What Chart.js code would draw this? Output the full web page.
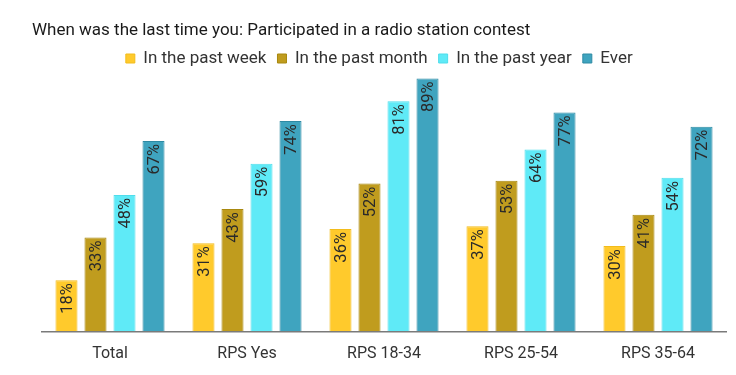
<!DOCTYPE html>
<html>
<head>
<meta charset="utf-8">
<script src="https://cdn.jsdelivr.net/npm/chart.js@4"></script>
<style>
  html, body { margin: 0; padding: 0; background: #fff; }
  #wrap { width: 736px; height: 375px; }
</style>
</head>
<body>
<div id="wrap"><canvas id="chart-1" width="736" height="375"></canvas></div>
<script>
var categories = ["Total", "RPS Yes", "RPS 18-34", "RPS 25-54", "RPS 35-64"];
var past_week = [18, 31, 36, 37, 30];
var past_month = [33, 43, 52, 53, 41];
var past_year = [48, 59, 81, 64, 54];
var ever = [67, 74, 89, 77, 72];
var series_names = ["In the past week", "In the past month", "In the past year", "Ever"];

var FONT = "Roboto, 'Noto Sans', sans-serif";

// labels rotated inside the top of each bar
const barLabels = {
    id: 'barLabels',
    afterDatasetsDraw(chart) {
        const ctx = chart.ctx;
        ctx.save();
        ctx.font = "16.5px " + FONT;
        ctx.fillStyle = '#2a2a2a';
        ctx.textAlign = 'right';
        ctx.textBaseline = 'middle';
        chart.data.datasets.forEach((ds, i) => {
            const meta = chart.getDatasetMeta(i);
            meta.data.forEach((bar, j) => {
                ctx.save();
                ctx.translate(bar.x, bar.y + 3);
                ctx.rotate(-Math.PI / 2);
                ctx.fillText(ds.data[j] + '%', 0, 1);
                ctx.restore();
            });
        });
        ctx.restore();
    }
};

const ctx = document.getElementById("chart-1").getContext("2d");
const myChart = new Chart(ctx, {
    type: "bar",
    data: {
        labels: categories,
        datasets: [{
            label: series_names[0],
            data: past_week,
            backgroundColor: '#FFCA2C',
            borderColor: '#F2BC1C',
            borderWidth: 1,
        }, {
            label: series_names[1],
            data: past_month,
            backgroundColor: '#C09C1E',
            borderColor: '#A8880F',
            borderWidth: 1,
        }, {
            label: series_names[2],
            data: past_year,
            backgroundColor: '#5FEAF7',
            borderColor: '#4FDDEB',
            borderWidth: 1,
        }, {
            label: series_names[3],
            data: ever,
            backgroundColor: '#3FA4BF',
            borderColor: '#2E8AA3',
            borderWidth: 1,
        }],
    },
    options: {
        responsive: false,
        animation: false,
        categoryPercentage: 0.847,
        barPercentage: 0.76,
        layout: {
            padding: { top: 0, left: 32, right: 9.5, bottom: -1.5 }
        },
        plugins: {
            title: {
                display: true,
                text: "When was the last time you: Participated in a radio station contest",
                align: 'start',
                color: '#1a1a1a',
                font: { family: FONT, size: 17, weight: 'normal', lineHeight: 1.0 },
                padding: { top: 22, bottom: 0 },
            },
            legend: {
                display: true,
                labels: {
                    color: '#333',
                    font: { family: FONT, size: 17 },
                    boxWidth: 9,
                    boxHeight: 9,
                    padding: 11,
                },
            },
            tooltip: { enabled: false },
        },
        scales: {
            x: {
                grid: { display: false, drawTicks: false },
                border: { display: true, color: '#7a7a7a', width: 1.5 },
                ticks: {
                    color: '#333',
                    padding: 13,
                    font: { family: FONT, size: 16 },
                },
            },
            y: {
                min: 0,
                max: 89.5,
                ticks: { display: false },
                grid: { display: false, drawTicks: false },
                border: { display: false },
                afterFit(scale) { scale.width = 9.5; },
            },
        },
    },
    plugins: [barLabels],
});
</script>
</body>
</html>
